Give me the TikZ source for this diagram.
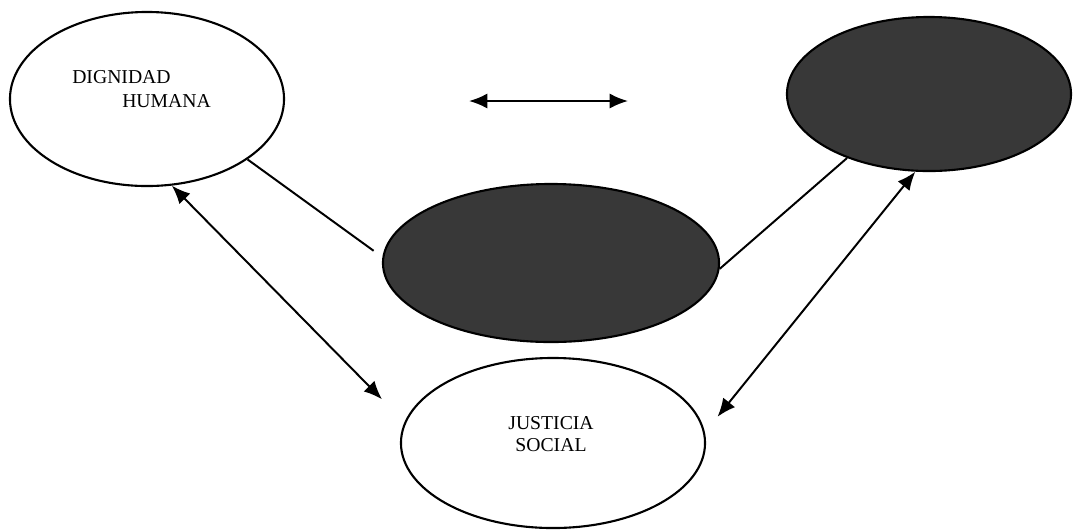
\documentclass[tikz,border=0pt]{standalone}
\usepackage{fontspec}
\setmainfont{Liberation Serif}
\usepackage{tikz}
\usetikzlibrary{shapes.geometric, arrows.meta}

\begin{document}
\begin{tikzpicture}[x=0.025cm, y=-0.025cm,
    blob/.style={draw, ellipse, line width=1.5pt, inner sep=0pt},
    darkblob/.style={blob, fill=black!78},
    lbl/.style={font=\fontsize{14}{16}\selectfont, inner sep=0pt},
    link/.style={line width=1.4pt},
    twoway/.style={line width=1.4pt, {Latex[length=4.6mm,width=3.8mm]}-{Latex[length=4.6mm,width=3.8mm]}}]
  \useasboundingbox (0,0) rectangle (1073,529);
  %% the four ellipses (centres in pixels of the original page)
  \node[blob, minimum width=6.85cm, minimum height=4.35cm] (dh) at (147,99) {};
  \node[darkblob, minimum width=7.1cm, minimum height=3.85cm] (rt) at (929,94) {};
  \node[darkblob, minimum width=8.4cm, minimum height=3.95cm] (mid) at (551,263) {};
  \node[blob, fill=white, minimum width=7.6cm, minimum height=4.25cm] (js) at (553,443) {};
  %% texts
  \node[lbl, anchor=west] (dh1) at (72,77) {DIGNIDAD};
  \node[lbl, anchor=west] (dh2) at (122,101) {HUMANA};
  \node[lbl, align=center] (jst) at (551,434) {JUSTICIA\\SOCIAL};
  %% free double arrow at the top
  \coordinate (ha) at (469,101);
  \coordinate (hb) at (628,101);
  \draw[twoway] (ha) -- (hb);
  %% plain links into the middle ellipse
  \draw[link, shorten >=0.27cm] (dh.-31) -- (mid.178);
  \draw[link] (mid.-2) -- (rt.218);
  %% double arrows down to the bottom ellipse
  \draw[twoway, shorten >=0.8cm] (dh.-74) -- (js.172);
  \draw[twoway, shorten >=0.5cm] (rt.-100) -- (js.4);
\end{tikzpicture}
\end{document}
